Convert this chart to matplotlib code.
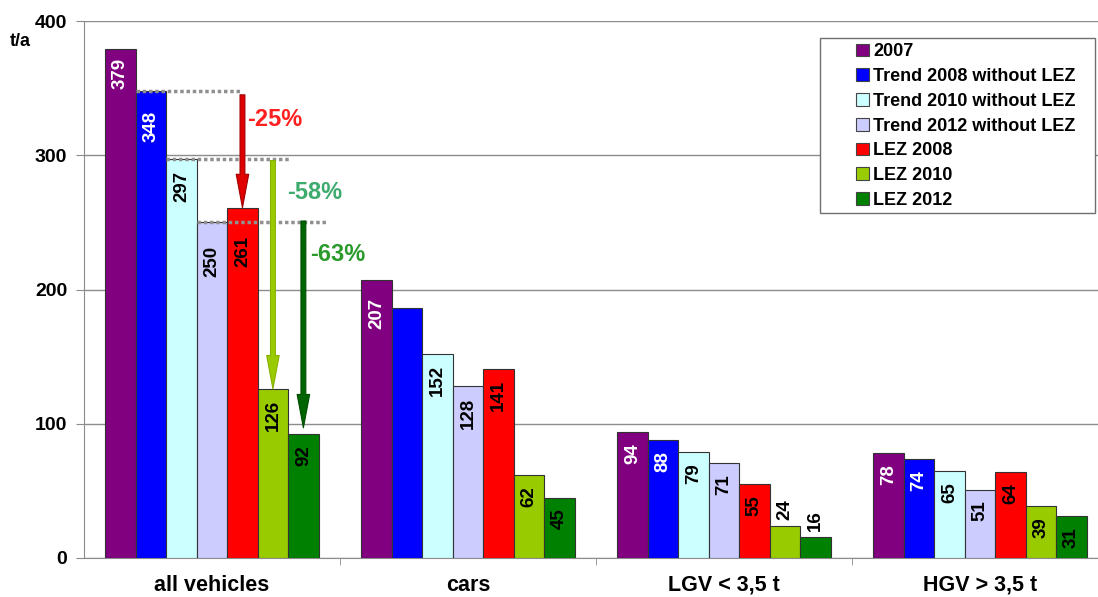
import matplotlib
matplotlib.use("Agg")
import matplotlib.pyplot as plt
from matplotlib.patches import Rectangle
import numpy as np

plt.rcParams['font.family'] = ['Liberation Sans', 'DejaVu Sans']

categories = ["all vehicles", "cars", "LGV < 3,5 t", "HGV > 3,5 t"]
series_names = ["2007", "Trend 2008 without LEZ", "Trend 2010 without LEZ",
                "Trend 2012 without LEZ", "LEZ 2008", "LEZ 2010", "LEZ 2012"]
v2007 = [379, 207, 94, 78]
trend2008 = [348, 186, 88, 74]
trend2010 = [297, 152, 79, 65]
trend2012 = [250, 128, 71, 51]
lez2008 = [261, 141, 55, 64]
lez2010 = [126, 62, 24, 39]
lez2012 = [92, 45, 16, 31]
series = [v2007, trend2008, trend2010, trend2012, lez2008, lez2010, lez2012]
# which values carry a printed label (cars / Trend 2008 has none)
show_label = [[True]*4, [True, False, True, True], [True]*4, [True]*4,
              [True]*4, [True]*4, [True]*4]
colors = ["#800080", "#0000ff", "#ccffff", "#ccccff", "#ff0000", "#99cc00", "#008000"]
label_colors = ["white", "white", "black", "black", "black", "black", "black"]
yticks = [0, 100, 200, 300, 400]

# label offsets (points below the bar top) that differ from the default
label_drop = {(0, 0): 6, (1, 0): 14, (3, 0): 17, (4, 0): 20, (0, 1): 13}

W, H = 1098, 597
fig = plt.figure(figsize=(W/100, H/100), dpi=100)
ax = fig.add_axes([84/W, (H-558)/H, 1024/W, 537/H])
ax.set_xlim(-0.5, 3.5)
ax.set_ylim(0, 400)

bw = 0.119
x = np.arange(len(categories))
for i, (vals, c) in enumerate(zip(series, colors)):
    xs = x + (i-3)*bw
    ax.bar(xs, vals, width=bw, color=c, edgecolor="#333333", linewidth=0.8,
           label=series_names[i], zorder=3)
    for j, v in enumerate(vals):
        if not show_label[i][j]:
            continue
        if v < 30:
            ax.annotate(str(v), (xs[j], v), xytext=(0, 4), textcoords="offset points",
                        rotation=90, ha="center", va="bottom", fontsize=13.5,
                        fontweight="bold", color="black", zorder=5)
        else:
            d = label_drop.get((i, j), 8)
            ax.annotate(str(v), (xs[j], v), xytext=(0, -d), textcoords="offset points",
                        rotation=90, ha="center", va="top", fontsize=13.5,
                        fontweight="bold", color=label_colors[i], zorder=5)

# grid and axes styling
ax.set_yticks(yticks)
ax.set_yticklabels([str(t) for t in yticks], fontsize=14, fontweight="bold")
ax.yaxis.grid(True, color="#8c8c8c", linewidth=1.0, zorder=0)
ax.set_axisbelow(True)
for s in ["top", "right"]:
    ax.spines[s].set_visible(False)
ax.spines["left"].set_color("#8c8c8c")
ax.spines["bottom"].set_color("#8c8c8c")
ax.tick_params(axis="y", length=6, color="#8c8c8c", pad=6)
ax.set_xticks(x)
ax.set_xticklabels(categories, fontsize=15.5, fontweight="bold")
ax.tick_params(axis="x", length=0, pad=12)
ax.set_xticks([0.5, 1.5, 2.5], minor=True)
ax.tick_params(axis="x", which="minor", length=5, color="#8c8c8c")

fig.text(10/W, 1-41/H, "t/a", fontsize=13, fontweight="bold", va="center", ha="left")

# reference dotted lines
g = 0
ax.plot([g + (1-3)*bw - bw/2, g + (4-3)*bw], [trend2008[0]]*2, ls=(0, (1, 0.8)),
        color="#909090", lw=2.5, zorder=4)
ax.plot([g + (2-3)*bw - bw/2, g + (5-3)*bw + bw/2 + 0.01], [trend2010[0]]*2, ls=(0, (1, 0.8)),
        color="#909090", lw=2.5, zorder=4)
ax.plot([g + (3-3)*bw - bw/2, g + (6-3)*bw + bw/2 + 0.03], [trend2012[0]]*2, ls=(0, (1, 0.8)),
        color="#909090", lw=2.5, zorder=4)

# arrows
def arrow(xc, y0, y1, fc, ec):
    ax.annotate("", xy=(xc, y1), xytext=(xc, y0),
                arrowprops=dict(arrowstyle="simple,head_length=2.4,head_width=0.9,tail_width=0.35",
                                fc=fc, ec=ec, lw=0.8, shrinkA=0, shrinkB=0),
                zorder=6)

arrow(g + (4-3)*bw, 345, lez2008[0], "#e00000", "#a00000")
arrow(g + (5-3)*bw, 296, lez2010[0], "#99cc00", "#88b000")
arrow(g + (6-3)*bw, 251, lez2012[0] + 5, "#006400", "#004d00")

ax.text(g + (4-3)*bw + 0.02, 327, "-25%", color="#ff2020", fontsize=17, fontweight="bold",
        va="center", ha="left", zorder=6)
ax.text(g + (5-3)*bw + 0.055, 272, "-58%", color="#3daa6e", fontsize=17, fontweight="bold",
        va="center", ha="left", zorder=6)
ax.text(g + (6-3)*bw + 0.025, 226, "-63%", color="#2a9a2a", fontsize=17, fontweight="bold",
        va="center", ha="left", zorder=6)

# legend with a custom frame
fig.patches.append(Rectangle((820/W, 1-213/H), 275/W, 175/H, transform=fig.transFigure,
                             fill=True, facecolor="white", edgecolor="#707070", lw=1.0,
                             zorder=10))
leg = ax.legend(loc="upper left", bbox_to_anchor=(849/W, 1-36/H),
                bbox_transform=fig.transFigure, frameon=False,
                prop=dict(weight="bold", size=13),
                handlelength=0.7, handleheight=0.7, handletextpad=0.25,
                labelspacing=0.43, borderpad=0.4, borderaxespad=0)
leg.set_zorder(11)
for h in leg.legend_handles:
    h.set_edgecolor("#444444")
    h.set_linewidth(0.8)
leg.remove()
fig.legends.append(leg)
leg.set_figure(fig)

fig.savefig("out.png", dpi=100)
